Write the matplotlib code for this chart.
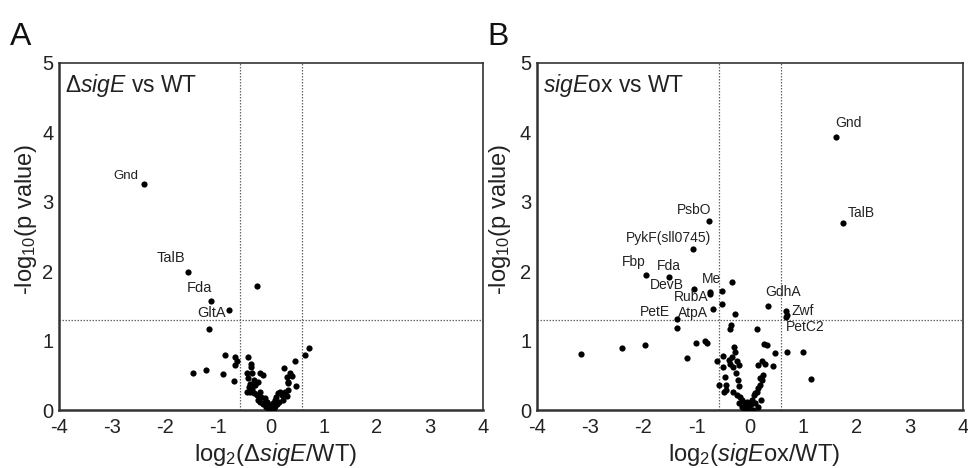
import matplotlib
matplotlib.use("Agg")
import matplotlib.pyplot as plt

plt.rcParams['font.family'] = ['Liberation Sans', 'DejaVu Sans']
plt.rcParams['mathtext.fontset'] = 'custom'
plt.rcParams['mathtext.rm'] = 'Liberation Sans'
plt.rcParams['mathtext.it'] = 'Liberation Sans:italic'

# ---------------- Panel A data: ΔsigE vs WT ----------------
a_named = ["Gnd", "TalB", "Fda", "GltA"]
a_named_x = [-2.40, -1.56, -1.14, -0.79]
a_named_y = [3.25, 1.99, 1.575, 1.44]

a_x = [-0.27, -1.17, -0.87, -0.68, -0.64, -0.67, -1.48, -1.23, -0.91, -0.69,
       0.71, 0.65, 0.45, 0.25, 0.36, 0.39, 0.31, 0.33, 0.48,
       -0.43, -0.38, -0.37,
       -0.46, -0.36, -0.43, -0.33, -0.39, -0.30, -0.21, -0.16, -0.24,
       -0.46, -0.39, -0.33, -0.27, -0.21, -0.18, -0.11, -0.08, -0.05, -0.02,
       0.01, 0.04, 0.07, 0.10, 0.14, 0.17, 0.20, 0.26, 0.33, 0.33,
       -0.25, -0.15, -0.10, 0.05, -0.03, 0.12, 0.22, -0.35, -0.42, 0.30,
       -0.20, -0.13, 0.08, 0.16, -0.06]
a_y = [1.78, 1.167, 0.79, 0.77, 0.71, 0.65, 0.54, 0.58, 0.52, 0.42,
       0.90, 0.79, 0.71, 0.60, 0.53, 0.49, 0.47, 0.39, 0.34,
       0.77, 0.67, 0.62,
       0.53, 0.53, 0.46, 0.43, 0.38, 0.36, 0.54, 0.50, 0.41,
       0.26, 0.26, 0.24, 0.22, 0.26, 0.19, 0.17, 0.12, 0.07, 0.02,
       0.05, 0.10, 0.14, 0.19, 0.24, 0.26, 0.22, 0.26, 0.29, 0.41,
       0.15, 0.08, 0.05, 0.03, 0.01, 0.08, 0.15, 0.30, 0.33, 0.20,
       0.12, 0.10, 0.06, 0.12, 0.09]

# ---------------- Panel B data: sigEox vs WT ----------------
b_named = ["Gnd", "TalB", "PsbO", "PykF(sll0745)", "Fbp", "Fda", "DevB", "Me",
           "RubA", "AtpA", "PetE", "GdhA", "Zwf", "PetC2"]
b_named_x = [1.62, 1.74, -0.77, -1.07, -1.95, -1.52, -1.05, -0.52,
             -0.75, -0.70, -1.37, 0.34, 0.67, 0.68]
b_named_y = [3.94, 2.70, 2.72, 2.32, 1.95, 1.91, 1.75, 1.72,
             1.70, 1.45, 1.31, 1.50, 1.43, 1.34]

b_x = [-0.34, -0.74, -0.53, -0.28, -1.37, 0.69, -0.35, -0.37, 0.14,
       -1.01, -0.84, -0.81, -3.17, -2.40, -1.97, -1.18,
       0.27, 0.33, 0.47, 0.69, 1.00, 1.15, 0.43,
       -0.61, -0.57, -0.51, -0.51, -0.47, -0.44, -0.44, -0.40, -0.37, -0.34,
       -0.30, -0.28, -0.25, -0.31, -0.21, -0.26, -0.23, -0.21, -0.31, -0.48,
       -0.25, -0.18, -0.15, -0.09, -0.06, -0.03, 0.00, 0.04, 0.07, 0.10,
       0.13, 0.16, 0.19, 0.22, 0.25, 0.19, 0.16, 0.22, 0.28,
       -0.10, 0.05, 0.10, -0.20, 0.20, -0.05, 0.15, -0.14, 0.02]
b_y = [1.84, 1.67, 1.53, 1.39, 1.18, 1.37, 1.22, 1.16, 1.16,
       0.96, 1.00, 0.97, 0.81, 0.89, 0.94, 0.75,
       0.95, 0.93, 0.82, 0.83, 0.83, 0.45, 0.63,
       0.70, 0.36, 0.78, 0.62, 0.48, 0.36, 0.29, 0.72, 0.67, 0.77,
       0.91, 0.84, 0.70, 0.62, 0.65, 0.53, 0.43, 0.34, 0.26, 0.26,
       0.22, 0.19, 0.14, 0.10, 0.05, 0.03, 0.07, 0.14, 0.22, 0.24,
       0.26, 0.31, 0.36, 0.43, 0.50, 0.46, 0.65, 0.70, 0.67,
       0.02, 0.00, 0.10, 0.10, 0.15, 0.12, 0.05, 0.04, 0.09]

x_ticks = [-4, -3, -2, -1, 0, 1, 2, 3, 4]
y_ticks = [0, 1, 2, 3, 4, 5]
fc_cut = 0.585
p_cut = 1.301

W, H = 968, 468
fig = plt.figure(figsize=(W / 100, H / 100), dpi=100)


def px_axes(l, t, r, b):
    return fig.add_axes([l / W, 1 - b / H, (r - l) / W, (b - t) / H])


def style(ax, xlabel):
    ax.set_xlim(-4, 4)
    ax.set_ylim(0, 5)
    ax.set_xticks(x_ticks)
    ax.set_yticks(y_ticks)
    ax.set_xticklabels([str(v) for v in x_ticks])
    ax.tick_params(length=0, labelsize=14.5, colors='#222222')
    ax.tick_params(axis='x', pad=6)
    ax.tick_params(axis='y', pad=4)
    for s in ['left', 'bottom']:
        ax.spines[s].set_linewidth(1.8)
        ax.spines[s].set_color('#333333')
    for s in ['top', 'right']:
        ax.spines[s].set_linewidth(1.2)
        ax.spines[s].set_color('#333333')
    ax.axhline(p_cut, color='#666666', ls=(0, (1.2, 1.2)), lw=0.9, zorder=1)
    ax.axvline(-fc_cut, color='#666666', ls=(0, (1.2, 1.2)), lw=0.9, zorder=1)
    ax.axvline(fc_cut, color='#666666', ls=(0, (1.2, 1.2)), lw=0.9, zorder=1)
    ax.set_xlabel(xlabel, fontsize=17, color='#222222')
    ax.set_ylabel(r'-log$_{10}$(p value)', fontsize=17, color='#222222')
    ax.xaxis.set_label_coords(0.51, -0.09)


axA = px_axes(59, 63, 483, 410)
style(axA, r'log$_2$(Δ$\mathit{sigE}$/WT)')
axA.yaxis.set_label_coords(-0.048, 0.55)
axA.scatter(a_x, a_y, s=20, color='black', zorder=3, linewidths=0)
axA.scatter(a_named_x, a_named_y, s=20, color='black', zorder=3, linewidths=0)
axA.text(0.015, 0.975, r'Δ$\mathit{sigE}$ vs WT', transform=axA.transAxes,
         ha='left', va='top', fontsize=16.5, color='#222222')
a_offsets = {"Gnd": (-4, 2, 'right', 'bottom'),
             "TalB": (-2, 5, 'right', 'bottom'),
             "Fda": (1, 4, 'right', 'bottom'),
             "GltA": (-2, -2, 'right', 'center')}
for n, x, y in zip(a_named, a_named_x, a_named_y):
    dx, dy, ha, va = a_offsets[n]
    fs = 9.5 if n == "Gnd" else 10.5
    axA.annotate(n, (x, y), xytext=(dx, dy), textcoords='offset points',
                 ha=ha, va=va, fontsize=fs, color='#222222')

axB = px_axes(536.7, 63, 963, 410)
style(axB, r'log$_2$($\mathit{sigE}$ox/WT)')
axB.yaxis.set_label_coords(-0.055, 0.55)
axB.scatter(b_x, b_y, s=20, color='black', zorder=3, linewidths=0)
axB.scatter(b_named_x, b_named_y, s=20, color='black', zorder=3, linewidths=0)
axB.text(0.015, 0.975, r'$\mathit{sigE}$ox vs WT', transform=axB.transAxes,
         ha='left', va='top', fontsize=16.5, color='#222222')
b_offsets = {"Gnd": (-1, 5, 'left', 'bottom'),
             "TalB": (4, 2, 'left', 'bottom'),
             "PsbO": (2, 3, 'right', 'bottom'),
             "PykF(sll0745)": (13, 3, 'right', 'bottom'),
             "Fbp": (0, 4, 'right', 'bottom'),
             "Fda": (0, 3, 'center', 'bottom'),
             "DevB": (-7, 2.5, 'right', 'center'),
             "Me": (-1, 3, 'right', 'bottom'),
             "RubA": (-1, 1.5, 'right', 'top'),
             "AtpA": (-3, -2.5, 'right', 'center'),
             "PetE": (-5, 0, 'right', 'bottom'),
             "GdhA": (-2, 5, 'left', 'bottom'),
             "Zwf": (4, 0, 'left', 'center'),
             "PetC2": (0, -2, 'left', 'top')}
for n, x, y in zip(b_named, b_named_x, b_named_y):
    dx, dy, ha, va = b_offsets[n]
    axB.annotate(n, (x, y), xytext=(dx, dy), textcoords='offset points',
                 ha=ha, va=va, fontsize=10, color='#222222')

fig.text(10 / W, 1 - 45 / H, 'A', fontsize=23, ha='left', va='baseline', color='#111111')
fig.text(487 / W, 1 - 45 / H, 'B', fontsize=23, ha='left', va='baseline', color='#111111')

fig.savefig('out.png', dpi=100)
